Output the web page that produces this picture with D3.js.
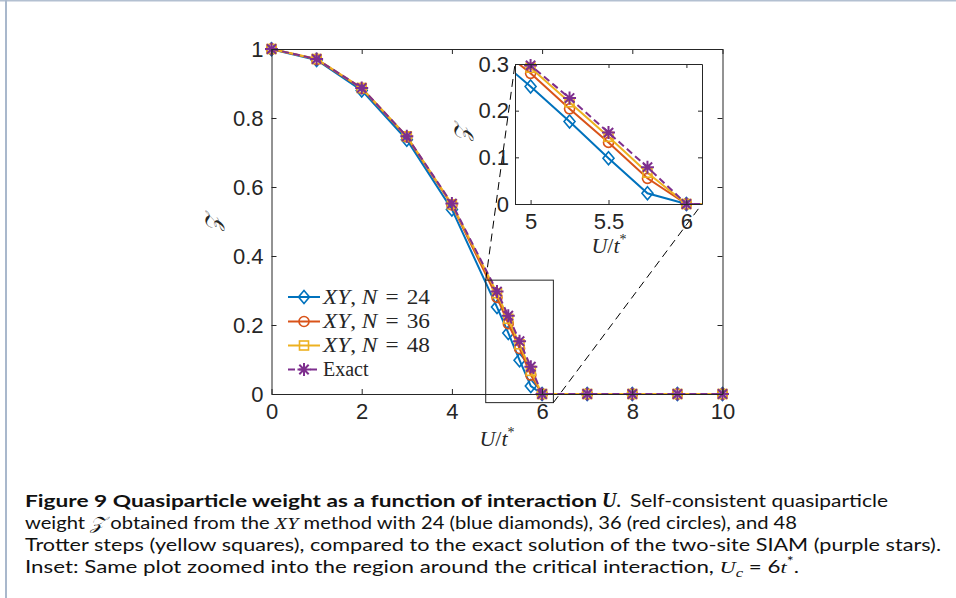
<!DOCTYPE html>
<html><head><meta charset="utf-8">
<script src="https://cdn.jsdelivr.net/npm/d3@7"></script>
<style>
html,body{margin:0;padding:0;background:#fff;}
svg{display:block;}
</style></head>
<body>
<svg id="chart" width="956" height="598"></svg>
<script>
// ---------------- data ----------------
const U = [0, 1, 2, 3, 4, 5, 5.25, 5.5, 5.75, 6, 7, 8, 9, 10];
const zN24  = [0.999, 0.968, 0.880, 0.737, 0.535, 0.252, 0.177, 0.098, 0.023, 0, 0, 0, 0, 0];
const zN36  = [1.000, 0.970, 0.886, 0.745, 0.548, 0.280, 0.204, 0.132, 0.055, 0, 0, 0, 0, 0];
const zN48  = [1.000, 0.971, 0.887, 0.747, 0.550, 0.292, 0.218, 0.144, 0.067, 0, 0, 0, 0, 0];
const zExact= [1.000, 0.971, 0.887, 0.747, 0.552, 0.297, 0.227, 0.153, 0.079, 0, 0, 0, 0, 0];
const seriesNames = ["N24", "N36", "N48", "Exact"];
const legendN = ["24", "36", "48"];
const xTicks = [0, 2, 4, 6, 8, 10];
const yTicks = [0, 0.2, 0.4, 0.6, 0.8, 1];
const xTickLabels = ["0", "2", "4", "6", "8", "10"];
const yTickLabels = ["0", "0.2", "0.4", "0.6", "0.8", "1"];
const insetXTicks = [5, 5.5, 6];
const insetYTicks = [0, 0.1, 0.2, 0.3];
const insetXTickLabels = ["5", "5.5", "6"];
const insetYTickLabels = ["0", "0.1", "0.2", "0.3"];
const zoomBoxX = [4.75, 6.25];
const zoomBoxY = [-0.025, 0.33];

// ---------------- setup ----------------
const svg = d3.select("#chart");
const colors = {N24: "#0072BD", N36: "#D95319", N48: "#EDB120", Exact: "#7E2F8E"};
const markers = {N24: "diamond", N36: "circle", N48: "square", Exact: "star"};
const vals = {N24: zN24, N36: zN36, N48: zN48, Exact: zExact};
const axisColor = "#262626";
const tickFont = "'Liberation Sans', Arial, Helvetica, sans-serif";
const serif = "'Liberation Serif', 'DejaVu Serif', serif";

// frame border
svg.append("line").attr("x1", 0).attr("x2", 956).attr("y1", 0.5).attr("y2", 0.5)
  .attr("stroke", "#b3c0d1").attr("stroke-width", 2);
svg.append("line").attr("x1", 6).attr("x2", 6).attr("y1", 0).attr("y2", 598)
  .attr("stroke", "#a9b8cc").attr("stroke-width", 2);

const x = d3.scaleLinear().domain([0, 10]).range([271.5, 722.5]);
const y = d3.scaleLinear().domain([0, 1]).range([394, 49]);
const xi = d3.scaleLinear().domain([4.9, 6.1]).range([515, 702]);
const yi = d3.scaleLinear().domain([0, 0.3]).range([204, 64]);

function drawMarker(g, type, cx, cy, color) {
  if (type === "diamond") {
    g.append("path").attr("d", `M${cx},${cy-6.5}L${cx+5.5},${cy}L${cx},${cy+6.5}L${cx-5.5},${cy}Z`)
      .attr("fill", "none").attr("stroke", color).attr("stroke-width", 1.6);
  } else if (type === "circle") {
    g.append("circle").attr("cx", cx).attr("cy", cy).attr("r", 5)
      .attr("fill", "none").attr("stroke", color).attr("stroke-width", 1.6);
  } else if (type === "square") {
    g.append("rect").attr("x", cx-4.5).attr("y", cy-4.5).attr("width", 9).attr("height", 9)
      .attr("fill", "none").attr("stroke", color).attr("stroke-width", 1.6);
  } else {
    const r = 6.5, d = r * 0.72;
    g.append("path").attr("d",
      `M${cx-r},${cy}L${cx+r},${cy}M${cx},${cy-r}L${cx},${cy+r}M${cx-d},${cy-d}L${cx+d},${cy+d}M${cx-d},${cy+d}L${cx+d},${cy-d}`)
      .attr("fill", "none").attr("stroke", color).attr("stroke-width", 2);
  }
}

function styleAxis(g) {
  g.selectAll(".domain").attr("stroke", axisColor).attr("stroke-width", 1);
  g.selectAll(".tick line").attr("stroke", axisColor).attr("stroke-width", 1);
  g.selectAll(".tick text").attr("fill", axisColor).attr("font-family", tickFont).attr("font-size", 22);
}

// ---------------- main axes ----------------
const main = svg.append("g");
main.append("rect").attr("x", 271.5).attr("y", 49).attr("width", 451).attr("height", 345).attr("fill", "#fff");

const lineMain = d3.line().x(d => x(d[0])).y(d => y(d[1]));
seriesNames.forEach(s => {
  const pts = U.map((u, i) => [u, vals[s][i]]);
  main.append("path").attr("d", lineMain(pts)).attr("fill", "none")
    .attr("stroke", colors[s]).attr("stroke-width", 2)
    .attr("stroke-dasharray", s === "Exact" ? "7,4" : null);
  const mg = main.append("g");
  pts.forEach(p => drawMarker(mg, markers[s], x(p[0]), y(p[1]), colors[s]));
});

const gx = main.append("g").attr("transform", `translate(0,${y(0)})`)
  .call(d3.axisBottom(x).tickValues(xTicks).tickFormat((d, i) => xTickLabels[i]).tickSizeInner(-5).tickSizeOuter(0).tickPadding(9));
styleAxis(gx);
const gxt = main.append("g").attr("transform", `translate(0,${y(1)})`)
  .call(d3.axisTop(x).tickValues(xTicks).tickFormat("").tickSizeInner(-5).tickSizeOuter(0));
styleAxis(gxt);
const gy = main.append("g").attr("transform", `translate(${x(0)},0)`)
  .call(d3.axisLeft(y).tickValues(yTicks).tickFormat((d, i) => yTickLabels[i]).tickSizeInner(-5).tickSizeOuter(0).tickPadding(8));
styleAxis(gy);
const gyr = main.append("g").attr("transform", `translate(${x(10)},0)`)
  .call(d3.axisRight(y).tickValues(yTicks).tickFormat("").tickSizeInner(-5).tickSizeOuter(0));
styleAxis(gyr);

// axis labels
svg.append("text").attr("transform", `translate(213,223) rotate(-90)`)
  .attr("text-anchor", "middle").attr("dominant-baseline", "central")
  .attr("font-family", serif).attr("font-style", "italic").attr("font-size", 21).attr("fill", axisColor)
  .text("𝒵");
function uOverT(g, cx, cy) {
  const t = g.append("text").attr("x", cx).attr("y", cy).attr("text-anchor", "middle")
    .attr("font-family", serif).attr("font-size", 22).attr("fill", axisColor);
  t.append("tspan").attr("font-style", "italic").text("U");
  t.append("tspan").text("/");
  t.append("tspan").attr("font-style", "italic").text("t");
  t.append("tspan").attr("font-size", 14).attr("dy", -9).text("*");
}
uOverT(svg, 497, 446);

// zoom box & connectors
svg.append("rect").attr("x", x(zoomBoxX[0])).attr("y", y(zoomBoxY[1]))
  .attr("width", x(zoomBoxX[1]) - x(zoomBoxX[0])).attr("height", y(zoomBoxY[0]) - y(zoomBoxY[1]))
  .attr("fill", "none").attr("stroke", axisColor).attr("stroke-width", 1);
svg.append("line").attr("x1", x(zoomBoxX[0])).attr("y1", y(zoomBoxY[1])).attr("x2", xi(4.9)).attr("y2", yi(0.3))
  .attr("stroke", "#000").attr("stroke-width", 1).attr("stroke-dasharray", "8,5");
svg.append("line").attr("x1", x(zoomBoxX[1])).attr("y1", y(zoomBoxY[0])).attr("x2", xi(6.1)).attr("y2", yi(0))
  .attr("stroke", "#000").attr("stroke-width", 1).attr("stroke-dasharray", "8,5");

// ---------------- legend ----------------
const leg = svg.append("g");
const legRows = [297, 321.5, 345.5, 369.5];
seriesNames.forEach((s, i) => {
  const yy = legRows[i];
  leg.append("line").attr("x1", 288).attr("x2", 320).attr("y1", yy).attr("y2", yy)
    .attr("stroke", colors[s]).attr("stroke-width", 2).attr("stroke-dasharray", s === "Exact" ? "7,4" : null);
  drawMarker(leg, markers[s], 304, yy, colors[s]);
  const t = leg.append("text").attr("x", 323).attr("y", yy + 6.5)
    .attr("font-family", serif).attr("font-size", 20).attr("fill", axisColor);
  if (s === "Exact") {
    t.text("Exact");
  } else {
    t.attr("textLength", 107).attr("lengthAdjust", "spacingAndGlyphs");
    t.append("tspan").attr("font-style", "italic").text("XY");
    t.append("tspan").text(",");
    t.append("tspan").attr("dx", 5).attr("font-style", "italic").text("N");
    t.append("tspan").attr("dx", 7).text("=");
    t.append("tspan").attr("dx", 7).text(legendN[i]);
  }
});

// ---------------- inset ----------------
const ins = svg.append("g");
ins.append("rect").attr("x", 515).attr("y", 64).attr("width", 187).attr("height", 140).attr("fill", "#fff");
svg.append("clipPath").attr("id", "insClip").append("rect")
  .attr("x", 515).attr("y", 64).attr("width", 187).attr("height", 140);
const lineIns = d3.line().x(d => xi(d[0])).y(d => yi(d[1]));
seriesNames.forEach(s => {
  const pts = U.map((u, i) => [u, vals[s][i]]);
  ins.append("path").attr("d", lineIns(pts)).attr("fill", "none").attr("clip-path", "url(#insClip)")
    .attr("stroke", colors[s]).attr("stroke-width", 2)
    .attr("stroke-dasharray", s === "Exact" ? "7,4" : null);
  const mg = ins.append("g");
  pts.filter(p => p[0] >= 4.9 && p[0] <= 6.1 && p[1] <= 0.3)
    .forEach(p => drawMarker(mg, markers[s], xi(p[0]), yi(p[1]), colors[s]));
});
const gix = ins.append("g").attr("transform", `translate(0,${yi(0)})`)
  .call(d3.axisBottom(xi).tickValues(insetXTicks).tickFormat((d, i) => insetXTickLabels[i]).tickSizeInner(-4).tickSizeOuter(0).tickPadding(9));
styleAxis(gix);
const gixt = ins.append("g").attr("transform", `translate(0,${yi(0.3)})`)
  .call(d3.axisTop(xi).tickValues(insetXTicks).tickFormat("").tickSizeInner(-4).tickSizeOuter(0));
styleAxis(gixt);
const giy = ins.append("g").attr("transform", `translate(${xi(4.9)},0)`)
  .call(d3.axisLeft(yi).tickValues(insetYTicks).tickFormat((d, i) => insetYTickLabels[i]).tickSizeInner(-4).tickSizeOuter(0).tickPadding(6));
styleAxis(giy);
const giyr = ins.append("g").attr("transform", `translate(${xi(6.1)},0)`)
  .call(d3.axisRight(yi).tickValues(insetYTicks).tickFormat("").tickSizeInner(-4).tickSizeOuter(0));
styleAxis(giyr);
svg.append("text").attr("transform", `translate(462,133) rotate(-90)`)
  .attr("text-anchor", "middle").attr("dominant-baseline", "central")
  .attr("font-family", serif).attr("font-style", "italic").attr("font-size", 21).attr("fill", axisColor)
  .text("𝒵");
uOverT(svg, 609, 253);

// ---------------- caption ----------------
const capFont = "Lato, 'Open Sans', sans-serif";
const cap = svg.append("g").attr("font-family", capFont).attr("font-size", 17.5).attr("fill", "#111");
function capText(x0, yy, len, parts) {
  const t = cap.append("text").attr("x", x0).attr("y", yy);
  if (len) t.attr("textLength", len).attr("lengthAdjust", "spacingAndGlyphs");
  parts.forEach(p => {
    const ts = t.append("tspan").text(p.t);
    if (p.b) ts.attr("font-weight", "bold");
    if (p.m) ts.attr("font-family", serif).attr("font-style", "italic");
    if (p.dy) ts.attr("dy", p.dy);
    if (p.fs) ts.attr("font-size", p.fs);
  });
  return t;
}
capText(25, 507, 572, [{t: "Figure 9  Quasiparticle weight as a function of interaction", b: 1}]);
capText(602, 507, null, [{t: "U", b: 1, m: 1, fs: 20}, {t: ".", b: 1}]);
capText(630, 507, 258, [{t: "Self-consistent quasiparticle"}]);
capText(25, 529, 772, [
  {t: "weight "}, {t: "𝒵", m: 1}, {t: " obtained from the "}, {t: "XY", m: 1},
  {t: " method with 24 (blue diamonds), 36 (red circles), and 48"}
]);
capText(25, 551, 916, [
  {t: "Trotter steps (yellow squares), compared to the exact solution of the two-site SIAM (purple stars)."}
]);
capText(25, 573, 774, [
  {t: "Inset: Same plot zoomed into the region around the critical interaction, "},
  {t: "U", m: 1}, {t: "c", m: 1, dy: 4, fs: 13}, {t: " = 6", dy: -4}, {t: "t", m: 1},
  {t: "*", dy: -7, fs: 13}, {t: ".", dy: 7}
]);
</script>
</body></html>
